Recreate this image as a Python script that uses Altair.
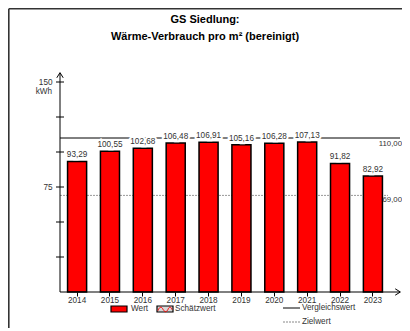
import altair as alt
import pandas as pd

years = ["2014", "2015", "2016", "2017", "2018", "2019", "2020", "2021", "2022", "2023"]
values = [93.29, 100.55, 102.68, 106.48, 106.91, 105.16, 106.28, 107.13, 91.82, 82.92]
vergleichswert = [110.00]
zielwert = [69.00]
y_ticks = [25, 50, 75, 100, 125, 150]
y_labels = [75, 150]
title_lines = ["GS Siedlung:", "Wärme-Verbrauch pro m² (bereinigt)"]
legend_labels = ["Wert", "Schätzwert", "Vergleichswert", "Zielwert"]
unit = "kWh"

FONT = "Liberation Sans"
TXT = "#333333"
FS = 8.2

def de(v):
    return f"{v:.2f}".replace(".", ",")

df = pd.DataFrame({"year": years, "value": values, "label": [de(v) for v in values]})
ref_v = pd.DataFrame({"v": vergleichswert, "label": [de(v) for v in vergleichswert]})
ref_z = pd.DataFrame({"v": zielwert, "label": [de(v) for v in zielwert]})
ticks_df = pd.DataFrame({"t": y_ticks})
one = pd.DataFrame({"a": [0]})

yscale = alt.Scale(domain=[0, 150], nice=False)
xscale = alt.Scale(paddingInner=0.42, paddingOuter=0.23)
yaxis = alt.Axis(title=None, values=y_labels, ticks=False, domain=False, grid=False,
                 labelFont=FONT, labelFontSize=FS, labelColor=TXT, labelPadding=8)
xaxis = alt.Axis(title=None, domain=False, ticks=True, tickSize=4, tickColor="black",
                 labelAngle=0, labelPadding=0, grid=False, labelFont=FONT,
                 labelFontSize=FS, labelColor=TXT)

def Y(field):
    return alt.Y(field, scale=yscale, axis=yaxis)

def X():
    return alt.X("year:N", scale=xscale, sort=years, axis=xaxis)

# Zielwert dotted line (behind bars)
ziel_line = alt.Chart(ref_z).mark_rule(color="#999999", strokeDash=[2, 1], strokeWidth=1).encode(
    y=Y("v:Q"), x=alt.value(0), x2=alt.value(328))
ziel_text = alt.Chart(ref_z).mark_text(align="right", baseline="middle", font=FONT, fontSize=7.8,
                                       color=TXT, dy=5).encode(
    y=Y("v:Q"), x=alt.value(342), text="label:N")

verg_line = alt.Chart(ref_v).mark_rule(color="black", strokeWidth=1).encode(
    y=Y("v:Q"), x=alt.value(0), x2=alt.value(340))
verg_text = alt.Chart(ref_v).mark_text(align="right", baseline="middle", font=FONT, fontSize=7.8,
                                       color=TXT, dy=6).encode(
    y=Y("v:Q"), x=alt.value(342), text="label:N")

bars = alt.Chart(df).mark_bar(color="#ff0000", stroke="black", strokeWidth=1.5).encode(
    x=X(), y=Y("value:Q"))

halo = alt.Chart(df).mark_text(baseline="bottom", font=FONT, fontSize=FS, color="white",
                               stroke="white", strokeWidth=4, dy=-2).encode(
    x=X(), y=Y("value:Q"), text="label:N")
blabels = alt.Chart(df).mark_text(baseline="bottom", font=FONT, fontSize=FS, color=TXT, dy=-2).encode(
    x=X(), y=Y("value:Q"), text="label:N")

# y-axis ticks crossing the axis
yticks = alt.Chart(ticks_df).mark_rule(color="black", strokeWidth=1).encode(
    y=Y("t:Q"), x=alt.value(-4), x2=alt.value(4))

def rule(x, x2, y, y2, color="black", w=1.0, dash=None):
    kw = dict(color=color, strokeWidth=w)
    if dash:
        kw["strokeDash"] = dash
    return alt.Chart(one).mark_rule(**kw).encode(
        x=alt.value(x), x2=alt.value(x2), y=alt.value(y), y2=alt.value(y2))

def txt(s, x, y, size=FS, bold=False, align="left", color=TXT):
    kw = dict(font=FONT, fontSize=size, align=align, baseline="middle", color=color)
    if bold:
        kw["fontWeight"] = "bold"
    return alt.Chart(one).mark_text(**kw).encode(
        x=alt.value(x), y=alt.value(y), text=alt.value(s))

def arrow(path, x, y, size=64):
    return alt.Chart(one).mark_point(shape=path, filled=False, color="black", strokeWidth=1,
                                     size=size, opacity=1).encode(x=alt.value(x), y=alt.value(y))

# axes lines with arrows
y_axis_line = rule(0, 0, 210, -9)
y_arrow = arrow("M-0.8,0.7L0,-0.6L0.8,0.7", 0, -7)
x_axis_line = rule(0, 340, 210, 210)
x_arrow = arrow("M-0.7,-0.8L0.6,0L-0.7,0.8", 338, 210)

# frame (left and top edges)
frame_left = rule(-51.2, -51.2, -73.2, 260, color="#333333", w=1.6)
frame_top = rule(-51.2, 345, -73.2, -73.2, color="#333333", w=1.6)

# titles
t1 = txt(title_lines[0], 145, -62, size=11, bold=True, align="center", color="black")
t2 = txt(title_lines[1], 145, -45, size=11, bold=True, align="center", color="black")
kwh = txt(unit, -8, 9.5, align="right")

# legend
leg_wert = alt.Chart(one).mark_rect(color="#ff0000", stroke="black", strokeWidth=1.2).encode(
    x=alt.value(51), x2=alt.value(67), y=alt.value(224), y2=alt.value(230))
leg_wert_t = txt(legend_labels[0], 71, 227)
leg_sch = alt.Chart(one).mark_rect(color="#d8d8d8", stroke="black", strokeWidth=1.2).encode(
    x=alt.value(97), x2=alt.value(113), y=alt.value(224), y2=alt.value(230))
leg_sch_wave = alt.Chart(one).mark_point(
    shape="M-1,0.25C-0.75,-0.4,-0.5,-0.4,-0.25,0.1C0,0.5,0.25,0.5,0.5,-0.1C0.7,-0.4,0.85,-0.3,1,0.1",
    filled=False, color="#ff0000", strokeWidth=1, size=200, opacity=1).encode(
    x=alt.value(105), y=alt.value(227))
leg_sch_t = txt(legend_labels[1], 115, 227)
leg_v = rule(223, 240, 226, 226)
leg_v_t = txt(legend_labels[2], 242, 226)
leg_z = rule(223, 240, 240, 240, color="#888888", dash=[2, 1])
leg_z_t = txt(legend_labels[3], 242, 240)

chart = alt.layer(
    frame_left, frame_top,
    ziel_line, bars, verg_line, halo, blabels, ziel_text, verg_text,
    yticks, y_axis_line, y_arrow, x_axis_line, x_arrow,
    t1, t2, kwh,
    leg_wert, leg_wert_t, leg_sch, leg_sch_wave, leg_sch_t, leg_v, leg_v_t, leg_z, leg_z_t,
).properties(
    width=330, height=210, autosize="none", background="white",
    padding={"left": 52, "top": 74, "right": 12, "bottom": 36},
).configure_view(stroke=None, strokeWidth=0).configure_axis(grid=False)

chart.save("out.html", embed_options={"renderer": "svg", "actions": False})
